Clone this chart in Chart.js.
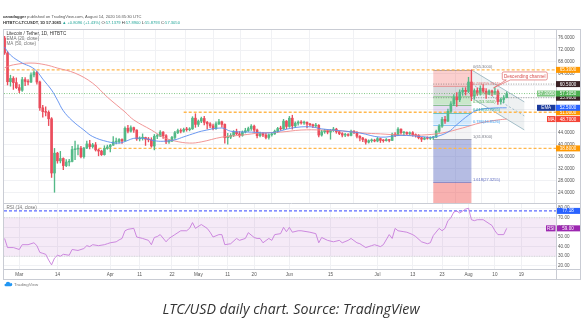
<!DOCTYPE html>
<html>
<head>
<meta charset="utf-8">
<script src="https://cdn.jsdelivr.net/npm/chart.js@4.4.0/dist/chart.umd.min.js"></script>
<style>
html, body { margin: 0; padding: 0; background: #fff; }
#wrap { position: relative; width: 582px; height: 326px; overflow: hidden; }
#wrap canvas { position: absolute; left: 0; top: 0; }
#caption { position: absolute; left: 0; top: 299px; width: 582px; text-align: center;
  font: italic 14.2px "Open Sans", sans-serif; color: #333; }
</style>
</head>
<body>
<div id="wrap">
  <canvas id="rsiChart" width="582" height="326"></canvas>
  <canvas id="priceChart" width="582" height="326"></canvas>
  <div id="caption">LTC/USD daily chart. Source: TradingView</div>
</div>
<script>
// days are counted from 1 Mar 2020 (= 0)
const firstDay = -5;      // 25 Feb 2020
const firstOpen = 76.0;

// daily closes, 25 Feb .. 14 Aug
const closes = [
  71.0, 61.3, 62.4, 61.0, 59.3,
  58.4, 62.0, 61.4, 61.2, 63.6, 64.4, 61.2, 52.5, 51.2, 51.0, 48.8, 30.5, 37.2, 34.6, 35.4, 33.0,
  34.2, 34.4, 38.4, 38.6, 38.9, 36.0, 38.9, 40.3, 39.4, 40.0, 38.3, 37.9, 36.7, 38.8, 39.3,
  39.9, 41.0, 41.1, 41.8, 41.3, 45.6, 44.6, 45.8, 45.0, 42.0, 42.3, 42.5, 41.9, 41.7, 39.6,
  42.9, 43.0, 44.3, 43.1, 41.0, 41.3, 42.5, 44.1, 44.8, 44.6, 45.2, 45.1, 45.4, 49.0, 46.9,
  48.0, 48.9, 47.6, 47.1, 46.4, 45.5, 47.1, 47.8, 46.9, 42.4, 42.6, 43.2, 44.4, 43.7, 43.2,
  44.3, 44.8, 45.5, 46.3, 45.0, 43.1, 43.8, 43.3, 42.5, 43.4, 43.7, 44.6, 45.5, 45.4, 48.0, 46.2,
  49.0, 46.4, 47.3, 47.7, 47.4, 47.6, 47.0, 46.8, 46.4, 46.6, 43.3, 44.4, 44.8, 44.3, 44.9,
  45.3, 44.4, 43.8, 43.3, 43.4, 43.2, 44.6, 44.2, 42.9, 42.3, 41.8, 40.9, 41.4, 41.6, 41.3,
  42.1, 41.5, 41.4, 41.8, 41.5, 43.6, 43.3, 45.3, 44.1, 44.2, 43.8, 44.1, 43.4, 43.2, 42.4,
  41.9, 42.3, 42.2, 42.4, 42.6, 44.6, 46.3, 48.6, 48.0, 51.3, 53.8, 56.1, 55.2, 57.8, 58.4, 58.0,
  61.2, 56.4, 58.3, 57.4, 59.1, 58.1, 57.2, 58.2, 57.5, 58.0, 54.6, 55.3, 55.9, 57.305
];
const highs = [
  76.6, 71.5, 63.5, 63.0, 62.6,
  60.3, 62.8, 62.7, 62.0, 64.3, 65.0, 64.8, 61.5, 53.3, 52.8, 51.5, 49.2, 38.8, 37.5, 37.8, 35.6,
  35.0, 35.1, 39.5, 41.3, 40.0, 39.5, 39.2, 41.3, 41.5, 40.5, 40.8, 38.6, 38.2, 39.7, 39.9,
  40.2, 42.8, 42.3, 42.1, 42.0, 46.1, 46.6, 46.4, 46.0, 45.1, 42.7, 43.7, 42.6, 42.5, 42.4,
  43.5, 43.6, 44.8, 44.5, 43.5, 41.8, 42.9, 44.6, 45.3, 45.4, 45.7, 45.9, 45.8, 49.5, 50.5,
  48.4, 49.4, 49.6, 47.9, 47.5, 47.0, 47.8, 48.6, 48.0, 47.1, 43.9, 43.8, 44.8, 45.3, 44.5,
  44.7, 45.6, 46.0, 46.8, 46.7, 45.3, 44.3, 44.1, 44.0, 43.7, 44.0, 45.0, 45.9, 46.3, 48.6, 48.2,
  49.6, 50.0, 47.8, 48.1, 48.2, 48.0, 47.8, 47.3, 47.0, 47.3, 46.8, 44.9, 45.2, 45.1, 45.2,
  45.9, 45.6, 44.6, 44.1, 43.9, 43.8, 45.0, 44.8, 44.5, 43.1, 42.5, 42.0, 41.7, 42.0, 41.9,
  42.5, 42.3, 41.8, 42.1, 41.9, 44.0, 44.1, 45.8, 45.4, 44.5, 44.4, 44.4, 44.5, 43.7, 43.5,
  42.6, 42.6, 42.7, 42.7, 42.9, 45.0, 46.8, 49.3, 49.6, 52.1, 54.6, 57.0, 57.6, 58.6, 59.2, 59.3,
  62.8, 65.3, 58.9, 59.2, 59.9, 60.3, 59.0, 58.6, 58.5, 59.2, 58.6, 55.8, 56.6, 57.89
];
const lows = [
  70.5, 60.2, 59.8, 58.7, 59.0,
  57.6, 58.0, 60.0, 60.2, 61.0, 62.9, 60.5, 51.6, 49.3, 49.8, 46.5, 29.0, 24.0, 33.8, 33.9, 31.6,
  32.6, 32.9, 34.2, 35.0, 36.6, 35.6, 35.5, 38.7, 38.6, 38.9, 37.9, 36.3, 36.4, 36.5, 38.5,
  37.6, 39.8, 40.3, 40.6, 40.5, 41.2, 44.0, 44.3, 44.2, 41.5, 41.3, 41.6, 39.8, 41.0, 39.2,
  38.3, 42.1, 42.8, 42.2, 40.4, 40.5, 41.1, 41.9, 43.8, 44.0, 44.3, 44.6, 44.7, 45.2, 45.9,
  46.2, 47.5, 46.7, 45.4, 45.8, 45.0, 45.2, 46.8, 46.0, 40.6, 40.2, 42.1, 42.8, 43.4, 42.6,
  42.9, 44.0, 44.5, 44.9, 44.3, 42.3, 42.7, 42.8, 42.0, 41.9, 42.9, 43.5, 44.1, 44.9, 45.2, 45.4,
  45.9, 45.3, 45.9, 46.6, 47.0, 46.9, 45.7, 46.4, 45.8, 45.9, 42.7, 42.9, 43.9, 43.7, 41.9,
  44.5, 43.9, 43.4, 42.7, 42.8, 42.9, 43.0, 43.8, 42.3, 41.3, 41.1, 40.2, 40.6, 40.9, 41.0,
  41.0, 40.8, 40.9, 41.2, 41.0, 41.4, 42.8, 43.1, 43.6, 43.1, 43.4, 43.3, 42.9, 42.6, 42.0,
  41.1, 41.7, 41.9, 41.8, 41.83, 42.4, 44.2, 45.9, 47.2, 47.8, 50.9, 53.2, 53.0, 54.6, 56.7, 56.8,
  57.6, 54.9, 55.4, 56.7, 56.8, 57.5, 55.7, 56.9, 56.6, 57.0, 53.6, 53.7, 54.2, 55.88
];

// EMA(20) and MA(50)
const emaDay =   [-5, -3, 1, 4, 6, 8, 11, 13, 15, 18, 22, 25, 30, 34, 37, 39, 43, 46, 49, 53, 56, 60, 62, 69, 72, 79, 86, 93, 99, 103, 110, 116, 123, 130, 137, 141, 146, 149, 153, 156, 161, 166];
const emaValue = [73, 70.3, 67.6, 66.3, 64.8, 62.2, 58.5, 55.1, 51.5, 48.2, 45, 42.8, 41.1, 40.6, 41.5, 42.2, 42.1, 41.4, 41.2, 41.7, 42.7, 44, 44.6, 45.7, 44.6, 44.3, 44.1, 45.7, 46.1, 45.4, 44.7, 44, 42.6, 43.2, 42.8, 42.6, 44.3, 46.8, 50, 51.7, 52.4, 52.5];
const maDay =   [-5, -2, 4, 9, 13, 19, 25, 30, 36, 39, 45, 49, 53, 58, 62, 69, 76, 82, 89, 96, 103, 110, 117, 123, 130, 137, 144, 151, 157, 163, 166];
const maValue = [66, 67, 67.6, 67, 65.9, 64.2, 60.8, 56.1, 51.1, 48.4, 45, 42.6, 41.3, 40.6, 41, 42.6, 43.3, 44, 44.3, 45, 45, 44.7, 44, 43.7, 43.3, 43.3, 44, 45.7, 47.4, 48.4, 48.7];

// RSI(14)
const rsiDay = [-5, -4, -2, 0, 1, 3, 5, 6, 7, 8, 9, 10, 11, 12, 13, 14, 15, 17, 18, 20, 22, 23, 24, 25, 27, 29, 30, 31, 33, 34, 35, 36, 37, 39, 40, 42, 44, 45, 46, 47, 48, 50, 51, 53, 55, 57, 58, 59, 60, 62, 64, 65, 66, 68, 69, 70, 72, 74, 75, 77, 78, 80, 81, 82, 83, 85, 86, 87, 89, 90, 91, 92, 93, 95, 96, 99, 101, 102, 103, 105, 107, 109, 110, 112, 113, 115, 116, 117, 118, 120, 121, 123, 124, 126, 127, 128, 129, 131, 132, 134, 135, 137, 139, 140, 141, 143, 144, 145, 146, 147, 148, 149, 150, 151, 152, 153, 154, 155, 156, 158, 160, 161, 162, 163, 165, 166];
const rsiValue = [48.5, 39, 39, 37, 42, 42, 44, 41, 34, 33, 32, 26, 21, 28, 31, 30, 32, 31, 37, 36, 38, 41, 40, 42, 41, 42, 43, 44, 45, 47, 48.5, 56.5, 58, 59, 50, 48.5, 46.5, 42, 49.5, 50.5, 52.5, 45, 48.5, 52.5, 56.5, 56.5, 59, 65, 59, 63, 59, 55, 50, 52.5, 52.5, 42, 43, 48.5, 46.5, 48.5, 54.5, 49.5, 48.5, 48.5, 44, 48.5, 46.5, 52.5, 53.5, 60, 55.5, 60, 55, 56.5, 56.5, 55, 53.5, 44, 49.5, 46.5, 45, 46.5, 44, 46.5, 48.5, 44, 43, 41, 39, 41, 42, 40, 42, 52.5, 48.5, 59, 56.5, 55.5, 55, 52.5, 50.5, 45, 43, 44, 51.5, 59, 56.5, 59, 67, 70, 76, 77, 75, 77, 79, 80, 68, 67, 68, 68, 64, 62, 56.5, 52.5, 52.5, 59];

// time axis
const tickDays =   [0, 13, 31, 41, 52, 61, 71, 80, 92, 106, 122, 134, 144, 153, 162, 171];
const tickLabels = ['Mar', '14', 'Apr', '11', '22', 'May', '11', '20', 'Jun', '15', 'Jul', '13', '23', 'Aug', '10', '19'];
const priceTicks = [24, 28, 32, 36, 40, 44, 48, 52, 56, 60, 64, 68, 72, 76];
const rsiTicks = [20, 30, 40, 50, 60, 70, 80];

// drawings
const fibLow = 41.83, fibHigh = 65.3, fibFromDay = 141, fibToDay = 154;
const fibLevels = [0, 0.236, 0.382, 0.5, 0.618, 0.786, 1, 1.618, 2.618];
const levelPrices = [65.3, 51.0, 38.8];
const levelFromDay = [-6, 56, 27];
const grayLevels = [60.5, 55.9];
const channelDay = [154, 172];
const channelTop = [65.3, 54.5];
const channelBottom = [55.85, 45.05];
const rsiLine = 77.18;

const UP = '#53b987', DOWN = '#eb4d5c';
const fibLine = ['#787b86', '#e57373', '#81c784', '#4caf50', '#26a69a', '#42a5f5', '#787b86', '#5c6bc0', '#e57373'];
const fibFill = ['rgba(239,83,80,0.28)', 'rgba(120,123,134,0.28)', 'rgba(76,175,80,0.3)', 'rgba(149,117,205,0.25)',
  'rgba(66,165,245,0.22)', 'rgba(200,200,205,0.2)', 'rgba(92,107,192,0.45)', 'rgba(239,83,80,0.45)'];

const opens = closes.map((c, i) => i === 0 ? firstOpen : closes[i - 1]);
const days = closes.map((c, i) => firstDay + i);
const candleColor = closes.map((c, i) => c >= opens[i] ? UP : DOWN);

const X_MIN = -5.2, X_MAX = 182.8;
const FONT = '"Liberation Sans", Arial, sans-serif';

function tag(ctx, y, color, text, x, w) {
  ctx.save();
  ctx.fillStyle = color;
  ctx.fillRect(x, y - 3, w, 6);
  ctx.fillStyle = '#fff';
  ctx.font = '4.5px ' + FONT;
  ctx.textAlign = 'center';
  ctx.textBaseline = 'middle';
  ctx.fillText(text, x + w / 2, y + 0.3);
  ctx.restore();
}

const priceOverlay = {
  id: 'priceOverlay',
  beforeDatasetsDraw(chart) {
    const { ctx, chartArea: a, scales: { x, y } } = chart;
    ctx.save();
    ctx.beginPath();
    ctx.rect(a.left, a.top, a.right - a.left, a.bottom - a.top);
    ctx.clip();
    // fib retracement
    const fx0 = x.getPixelForValue(fibFromDay), fx1 = x.getPixelForValue(fibToDay);
    const lp = fibLevels.map(l => fibHigh - l * (fibHigh - fibLow));
    for (let i = 0; i < lp.length - 1; i++) {
      const y0 = y.getPixelForValue(lp[i]), y1 = y.getPixelForValue(lp[i + 1]);
      ctx.fillStyle = fibFill[i];
      ctx.fillRect(fx0, y0, fx1 - fx0, y1 - y0);
    }
    lp.forEach((p, i) => {
      const yy = Math.round(y.getPixelForValue(p)) + 0.5;
      ctx.strokeStyle = fibLine[i];
      ctx.lineWidth = 0.6;
      ctx.beginPath(); ctx.moveTo(fx0, yy); ctx.lineTo(fx1, yy); ctx.stroke();
    });
    // descending channel
    const cx0 = x.getPixelForValue(channelDay[0]), cx1 = x.getPixelForValue(channelDay[1]);
    const t0 = y.getPixelForValue(channelTop[0]), t1 = y.getPixelForValue(channelTop[1]);
    const b0 = y.getPixelForValue(channelBottom[0]), b1 = y.getPixelForValue(channelBottom[1]);
    ctx.fillStyle = 'rgba(176,190,197,0.22)';
    ctx.beginPath(); ctx.moveTo(cx0, t0); ctx.lineTo(cx1, t1); ctx.lineTo(cx1, b1); ctx.lineTo(cx0, b0); ctx.closePath(); ctx.fill();
    ctx.strokeStyle = '#8fb0bd'; ctx.lineWidth = 0.8;
    ctx.beginPath(); ctx.moveTo(cx0, t0); ctx.lineTo(cx1, t1); ctx.moveTo(cx0, b0); ctx.lineTo(cx1, b1); ctx.stroke();
    ctx.setLineDash([2, 2]);
    ctx.beginPath(); ctx.moveTo(cx0, (t0 + b0) / 2); ctx.lineTo(cx1, (t1 + b1) / 2); ctx.stroke();
    // horizontal levels
    ctx.strokeStyle = '#ffb74d'; ctx.lineWidth = 1.3; ctx.setLineDash([3, 2]);
    levelPrices.forEach((p, i) => {
      const yy = y.getPixelForValue(p);
      ctx.beginPath(); ctx.moveTo(x.getPixelForValue(levelFromDay[i]), yy); ctx.lineTo(a.right, yy); ctx.stroke();
    });
    ctx.strokeStyle = '#555'; ctx.lineWidth = 0.6; ctx.setLineDash([1, 1.5]);
    grayLevels.forEach(p => {
      const yy = y.getPixelForValue(p);
      ctx.beginPath(); ctx.moveTo(fx0, yy); ctx.lineTo(a.right, yy); ctx.stroke();
    });
    ctx.strokeStyle = '#4caf50'; ctx.lineWidth = 0.7; ctx.setLineDash([1, 1.5]);
    const cy = y.getPixelForValue(closes[closes.length - 1]);
    ctx.beginPath(); ctx.moveTo(a.left, cy); ctx.lineTo(a.right, cy); ctx.stroke();
    ctx.restore();
  },
  afterDatasetsDraw(chart) {
    const { ctx, chartArea: a, scales: { x, y } } = chart;
    ctx.save();
    // fib labels
    const fx1 = x.getPixelForValue(fibToDay);
    ctx.font = '4px ' + FONT; ctx.textAlign = 'left'; ctx.textBaseline = 'bottom';
    fibLevels.forEach((l, i) => {
      const p = fibHigh - l * (fibHigh - fibLow);
      const yy = y.getPixelForValue(p);
      if (yy > a.bottom) return;
      ctx.fillStyle = fibLine[i];
      ctx.fillText(l + '(' + p.toFixed(4) + ')', fx1 + 1.5, yy - 0.5);
    });
    // callout
    const bx = x.getPixelForValue(164.5), by = y.getPixelForValue(64.6);
    const bw = 45, bh = 8;
    ctx.fillStyle = '#fff'; ctx.strokeStyle = '#e06666'; ctx.lineWidth = 0.7;
    ctx.beginPath();
    ctx.moveTo(bx + 1.5, by); ctx.lineTo(bx + bw - 1.5, by); ctx.quadraticCurveTo(bx + bw, by, bx + bw, by + 1.5);
    ctx.lineTo(bx + bw, by + bh - 1.5); ctx.quadraticCurveTo(bx + bw, by + bh, bx + bw - 1.5, by + bh);
    ctx.lineTo(bx + 8, by + bh); ctx.lineTo(x.getPixelForValue(161.5), y.getPixelForValue(59.2)); ctx.lineTo(bx + 4, by + bh);
    ctx.lineTo(bx + 1.5, by + bh); ctx.quadraticCurveTo(bx, by + bh, bx, by + bh - 1.5);
    ctx.lineTo(bx, by + 1.5); ctx.quadraticCurveTo(bx, by, bx + 1.5, by);
    ctx.closePath(); ctx.fill(); ctx.stroke();
    ctx.fillStyle = '#d84d4d'; ctx.font = '4.6px ' + FONT; ctx.textAlign = 'center'; ctx.textBaseline = 'middle';
    ctx.fillText('Descending channel', bx + bw / 2, by + bh / 2 + 0.3);
    // legend
    ctx.textAlign = 'left'; ctx.textBaseline = 'middle'; ctx.font = '4.6px ' + FONT;
    ctx.fillStyle = '#333';
    ctx.fillText('Litecoin / Tether, 1D, HITBTC', a.left + 2.5, 33.5);
    ctx.fillStyle = '#777';
    ctx.fillText('EMA (20, close)', a.left + 2.5, 38.5);
    ctx.fillText('MA (50, close)', a.left + 2.5, 43.5);
    ctx.restore();
  },
  afterDraw(chart) {
    const { ctx, chartArea: a, scales: { y } } = chart;
    ctx.save();
    const ax = a.right, w = 24;
    levelPrices.forEach(p => tag(ctx, y.getPixelForValue(p), '#ff9800', p.toFixed(4), ax, w));
    grayLevels.forEach(p => tag(ctx, y.getPixelForValue(p), '#3b2326', p.toFixed(4), ax, w));
    const last = closes[closes.length - 1];
    tag(ctx, y.getPixelForValue(last), '#4caf50', last.toFixed(4), ax, w);
    tag(ctx, y.getPixelForValue(last), '#81c784', last.toFixed(4), ax - 19, 18.5);
    const ema = emaValue[emaValue.length - 1], ma = maValue[maValue.length - 1];
    tag(ctx, y.getPixelForValue(ema), '#2962ff', ema.toFixed(4), ax, w);
    tag(ctx, y.getPixelForValue(ema), '#1a3a9c', 'EMA', ax - 19, 18.5);
    tag(ctx, y.getPixelForValue(ma), '#f44336', ma.toFixed(4), ax, w);
    tag(ctx, y.getPixelForValue(ma), '#f44336', 'MA', ax - 9, 8.5);
    // pane separator
    ctx.strokeStyle = '#c9ccd4'; ctx.lineWidth = 1;
    ctx.beginPath(); ctx.moveTo(3, a.bottom + 0.5); ctx.lineTo(580, a.bottom + 0.5); ctx.stroke();
    ctx.restore();
  }
};

const rsiOverlay = {
  id: 'rsiOverlay',
  beforeDatasetsDraw(chart) {
    const { ctx, chartArea: a, scales: { y } } = chart;
    ctx.save();
    const y70 = y.getPixelForValue(70), y30 = y.getPixelForValue(30);
    ctx.fillStyle = 'rgba(186,104,200,0.14)';
    ctx.fillRect(a.left, y70, a.right - a.left, y30 - y70);
    ctx.strokeStyle = '#bbb'; ctx.lineWidth = 0.5; ctx.setLineDash([1, 1.5]);
    [y70, y30].forEach(yy => { ctx.beginPath(); ctx.moveTo(a.left, yy); ctx.lineTo(a.right, yy); ctx.stroke(); });
    const yb = y.getPixelForValue(rsiLine);
    ctx.strokeStyle = '#5c6cff'; ctx.lineWidth = 1.1; ctx.setLineDash([3, 2]);
    ctx.beginPath(); ctx.moveTo(a.left, yb); ctx.lineTo(a.right, yb); ctx.stroke();
    ctx.restore();
  },
  afterDraw(chart) {
    const { ctx, chartArea: a, scales: { y } } = chart;
    ctx.save();
    tag(ctx, y.getPixelForValue(rsiLine), '#2962ff', rsiLine.toFixed(2), a.right, 24);
    const r = rsiValue[rsiValue.length - 1];
    tag(ctx, y.getPixelForValue(r), '#9c27b0', r.toFixed(2), a.right, 24);
    tag(ctx, y.getPixelForValue(r), '#9c27b0', 'RSI', a.right - 10, 9.5);
    ctx.textAlign = 'left'; ctx.textBaseline = 'middle';
    ctx.font = '4.6px ' + FONT; ctx.fillStyle = '#777';
    ctx.fillText('RSI (14, close)', a.left + 2.5, a.top + 5);
    // frame
    ctx.strokeStyle = '#c9ccd4'; ctx.lineWidth = 1;
    ctx.strokeRect(3.5, 29.5, 577, 250);
    ctx.beginPath();
    ctx.moveTo(a.right + 0.5, 29.5); ctx.lineTo(a.right + 0.5, 279.5);
    ctx.moveTo(3.5, a.bottom + 0.5); ctx.lineTo(580.5, a.bottom + 0.5);
    ctx.stroke();
    // header
    const HF = '4.1px ' + FONT;
    ctx.font = 'bold ' + HF; ctx.fillStyle = '#333';
    ctx.fillText('canadagger', 3, 17);
    const w = ctx.measureText('canadagger').width;
    ctx.font = HF; ctx.fillStyle = '#555';
    ctx.fillText(' published on TradingView.com, August 14, 2020 16:35:30 UTC', 3 + w, 17);
    const parts = [['HITBTC:LTCUSDT, 1D 57.3085 ', '#333'], ['\u25B2 +0.8096 (+1.43%) ', '#26a69a'], ['O:', '#333'], ['57.1379 ', '#26a69a'],
      ['H:', '#333'], ['57.8900 ', '#26a69a'], ['L:', '#333'], ['55.8793 ', '#26a69a'], ['C:', '#333'], ['57.3050', '#26a69a']];
    let px = 3;
    ctx.font = 'bold ' + HF;
    parts.forEach(([t, c], i) => {
      if (i === 1) ctx.font = HF;
      ctx.fillStyle = c; ctx.fillText(t, px, 23); px += ctx.measureText(t).width;
    });
    // logo
    ctx.fillStyle = '#2196f3';
    ctx.beginPath(); ctx.arc(8, 284, 2.2, Math.PI, 0); ctx.arc(10.5, 284.5, 1.8, -Math.PI / 2, Math.PI / 2); ctx.lineTo(5.5, 286.3); ctx.arc(5.8, 285, 1.3, Math.PI / 2, Math.PI * 1.5); ctx.fill();
    ctx.fillStyle = '#777'; ctx.font = '4.4px ' + FONT;
    ctx.fillText('TradingView', 14, 284.5);
    ctx.restore();
  }
};

const xScale = (showLabels) => ({
  type: 'linear', min: X_MIN, max: X_MAX, offset: false,
  afterBuildTicks: s => { s.ticks = tickDays.map(v => ({ value: v })); },
  afterFit: s => { s.height = showLabels ? 10 : 0; },
  ticks: { display: showLabels, autoSkip: false, maxRotation: 0, padding: 2.5, color: '#555',
    font: { size: 4.6, family: FONT }, callback: (v, i) => tickLabels[i] },
  grid: { color: '#f0f1f4', drawTicks: false },
  border: { display: false }
});

new Chart(document.getElementById('priceChart'), {
  type: 'bar',
  data: {
    datasets: [
      { type: 'line', data: emaDay.map((d, i) => ({ x: d, y: emaValue[i] })), borderColor: '#5b8def', borderWidth: 0.9, pointRadius: 0, tension: 0.4 },
      { type: 'line', data: maDay.map((d, i) => ({ x: d, y: maValue[i] })), borderColor: '#ef8a8a', borderWidth: 0.9, pointRadius: 0, tension: 0.4 },
      { data: days.map((d, i) => ({ x: d, y: [opens[i], closes[i]] })), backgroundColor: candleColor, barThickness: 2, minBarLength: 0.8, grouped: false },
      { data: days.map((d, i) => ({ x: d, y: [lows[i], highs[i]] })), backgroundColor: candleColor, barThickness: 0.7, grouped: false }
    ]
  },
  options: {
    responsive: false, animation: false, events: [],
    layout: { padding: { top: 30, left: 4, right: 2, bottom: 123 } },
    plugins: { legend: { display: false }, tooltip: { enabled: false } },
    scales: {
      x: xScale(false),
      y: {
        position: 'right', min: 20.38, max: 78.75,
        afterBuildTicks: s => { s.ticks = priceTicks.map(v => ({ value: v })); },
        afterFit: s => { s.width = 24; },
        ticks: { padding: 2, color: '#555', font: { size: 4.6, family: FONT }, callback: v => v.toFixed(4) },
        grid: { color: '#f0f1f4', drawTicks: false },
        border: { display: false }
      }
    }
  },
  plugins: [priceOverlay]
});

new Chart(document.getElementById('rsiChart'), {
  type: 'line',
  data: {
    datasets: [
      { data: rsiDay.map((d, i) => ({ x: d, y: rsiValue[i] })), borderColor: '#c77ddb', borderWidth: 0.9, pointRadius: 0, tension: 0 }
    ]
  },
  options: {
    responsive: false, animation: false, events: [],
    layout: { padding: { top: 203, left: 4, right: 2, bottom: 47 } },
    plugins: { legend: { display: false }, tooltip: { enabled: false } },
    scales: {
      x: xScale(true),
      y: {
        position: 'right', min: 16.7, max: 85.4,
        afterBuildTicks: s => { s.ticks = rsiTicks.map(v => ({ value: v })); },
        afterFit: s => { s.width = 24; },
        ticks: { padding: 2, color: '#555', font: { size: 4.6, family: FONT }, callback: v => v.toFixed(2) },
        grid: { color: '#f0f1f4', drawTicks: false },
        border: { display: false }
      }
    }
  },
  plugins: [rsiOverlay]
});
</script>
</body>
</html>
